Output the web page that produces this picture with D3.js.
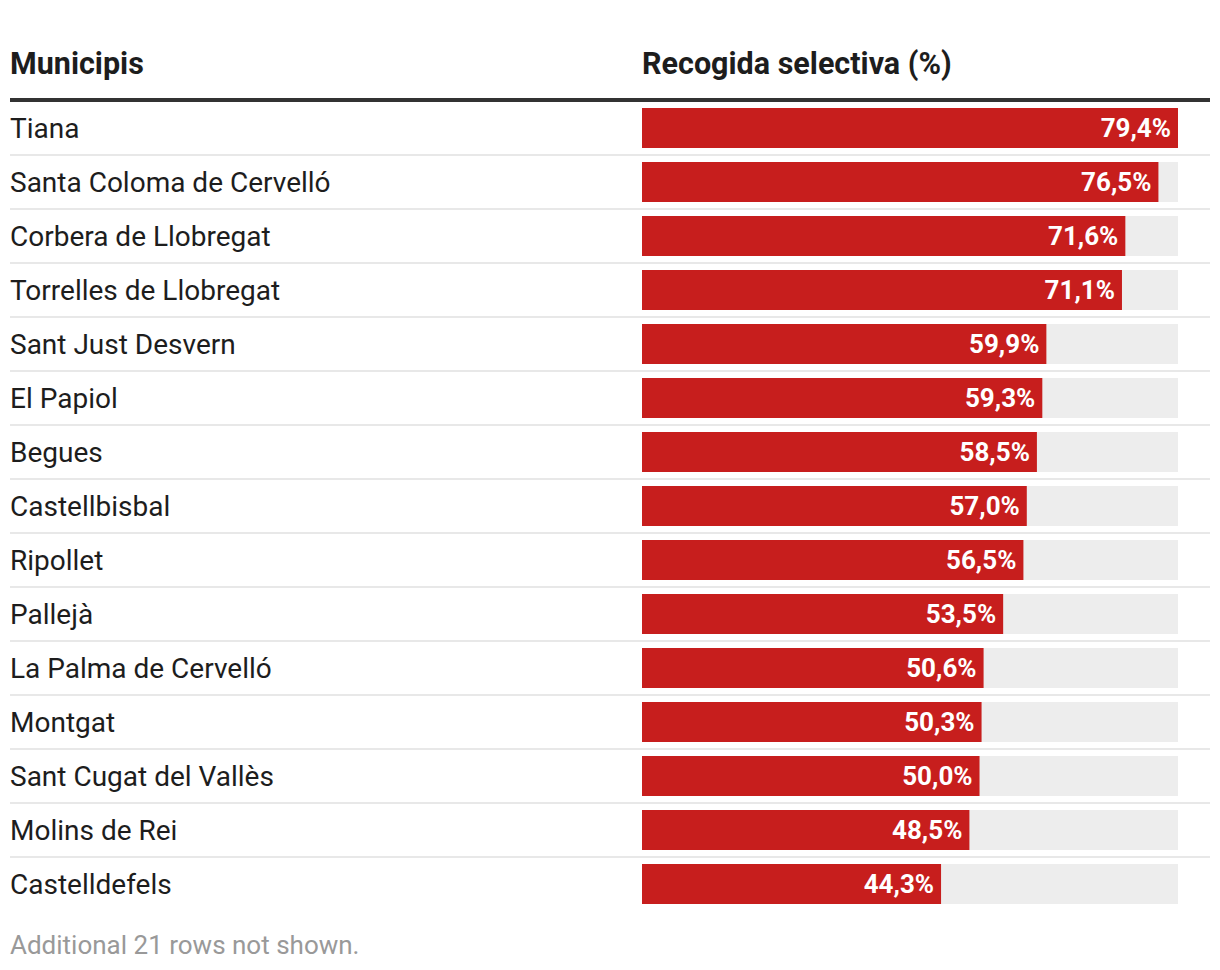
<!DOCTYPE html>
<html>
<head>
<meta charset="utf-8">
<script src="https://cdn.jsdelivr.net/npm/d3@7"></script>
<style>
  body { margin: 0; background: #fff; font-family: Roboto, sans-serif; }
</style>
</head>
<body>
<div id="chart"></div>
<script>
const municipis = ["Tiana", "Santa Coloma de Cervelló", "Corbera de Llobregat", "Torrelles de Llobregat",
  "Sant Just Desvern", "El Papiol", "Begues", "Castellbisbal", "Ripollet", "Pallejà",
  "La Palma de Cervelló", "Montgat", "Sant Cugat del Vallès", "Molins de Rei", "Castelldefels"];
const recogida = [79.4, 76.5, 71.6, 71.1, 59.9, 59.3, 58.5, 57.0, 56.5, 53.5, 50.6, 50.3, 50.0, 48.5, 44.3];
const headers = ["Municipis", "Recogida selectiva (%)"];
const footnote = "Additional 21 rows not shown.";

const width = 1220, height = 970;
const left = 10, right = 1210, barX = 642, barEnd = 1178;
const tableTop = 101, rowH = 54;

const svg = d3.select("#chart").append("svg")
  .attr("width", width).attr("height", height);

const x = d3.scaleLinear().domain([0, d3.max(recogida)]).range([barX, barEnd]);
const y = d3.scaleBand().domain(municipis).range([tableTop, tableTop + rowH * municipis.length]);

const fmt = v => d3.format(".1f")(v).replace(".", ",") + "%";

// headers
svg.append("text").attr("x", left).attr("y", 74)
  .attr("font-size", 30.5).attr("font-weight", 700).attr("fill", "#1d1d1d")
  .text(headers[0]);
svg.append("text").attr("x", barX).attr("y", 74)
  .attr("font-size", 30.5).attr("font-weight", 700).attr("fill", "#1d1d1d")
  .text(headers[1]);

svg.append("rect").attr("x", left).attr("y", 98).attr("width", right - left).attr("height", 4)
  .attr("fill", "#333");

const rows = svg.selectAll("g.row").data(municipis).join("g")
  .attr("class", "row")
  .attr("transform", d => `translate(0,${y(d)})`);

// separators between rows
rows.filter((d, i) => i < municipis.length - 1)
  .append("rect").attr("x", left).attr("y", rowH - 1).attr("width", right - left).attr("height", 2)
  .attr("fill", "#e8e8e8");

rows.append("text").attr("x", left).attr("y", 37)
  .attr("font-size", 28).attr("fill", "#1d1d1d")
  .text(d => d);

rows.append("rect").attr("x", barX).attr("y", 7).attr("height", 40)
  .attr("width", barEnd - barX).attr("fill", "#ededed");

rows.append("rect").attr("x", barX).attr("y", 7).attr("height", 40)
  .attr("width", (d, i) => x(recogida[i]) - barX).attr("fill", "#c71e1d");

rows.append("text").attr("x", (d, i) => x(recogida[i]) - 7).attr("y", 36)
  .attr("text-anchor", "end").attr("font-size", 26).attr("font-weight", 700).attr("fill", "#fff")
  .text((d, i) => fmt(recogida[i]));

svg.append("text").attr("x", left).attr("y", 954)
  .attr("font-size", 26).attr("fill", "#999")
  .text(footnote);
</script>
</body>
</html>
